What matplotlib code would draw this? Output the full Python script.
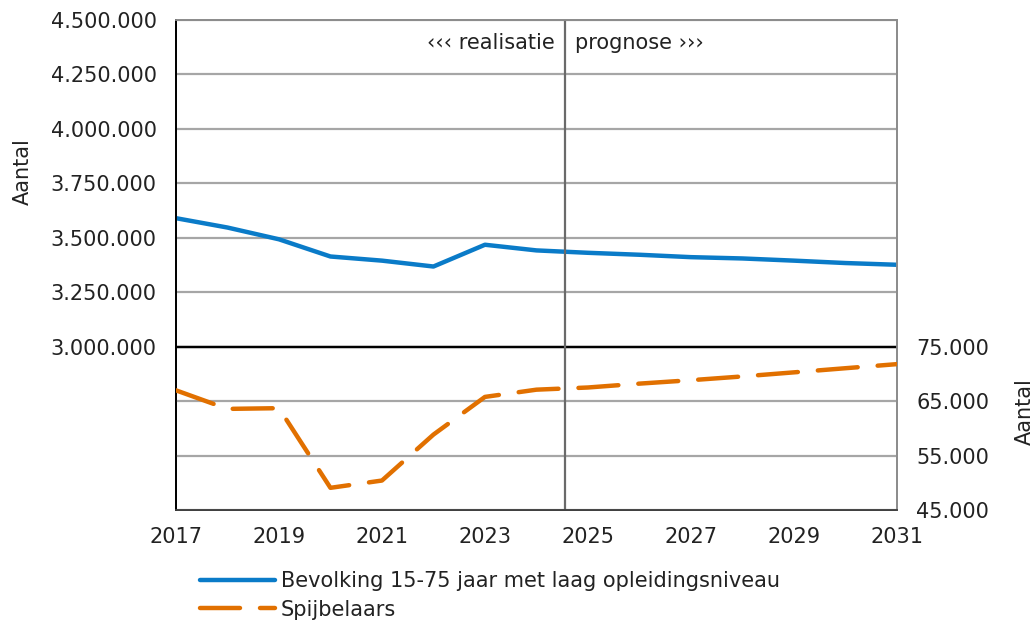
import matplotlib
matplotlib.use("Agg")
import matplotlib.pyplot as plt
from matplotlib.ticker import FuncFormatter

#-- data
years = list(range(2017, 2032))
bevolking = [3590000, 3547000, 3493000, 3414000, 3395000, 3368000, 3468000,
             3442000, 3431000, 3422000, 3411000, 3405000, 3395000, 3384000, 3376000]
spijbelaars = [66980, 63570, 63700, 49070, 50410, 58850, 65770,
               67100, 67500, 68210, 68840, 69530, 70280, 71040, 71790]
split_year = 2024.55
left_ticks = [3000000, 3250000, 3500000, 3750000, 4000000, 4250000, 4500000]
right_ticks = [45000, 55000, 65000, 75000]
x_ticks = list(range(2017, 2032, 2))

blue = '#0a7bc8'
orange = '#e17000'
grid = '#a6a6a6'
txt = '#222222'
fs = 15

plt.rcParams['font.family'] = ['DejaVu Sans']
plt.rcParams['font.size'] = fs
plt.rcParams['text.color'] = txt

def dots(v, pos):
    return f"{v:,.0f}".replace(',', '.')

fig = plt.figure(figsize=(10.35, 6.23), dpi=100)
ax = fig.add_axes([0.170, 0.1814, 0.6966, 0.7865])
ax2 = ax.twinx()

#-- left axis: population
ax.set_xlim(2017, 2031)
ax.set_ylim(2250000, 4500000)
ax.set_yticks(left_ticks)
ax.yaxis.set_major_formatter(FuncFormatter(dots))
ax.set_xticks(x_ticks)
ax.grid(axis='y', color=grid, lw=1.6)
ax.set_axisbelow(True)
ax.tick_params(axis='y', length=0, labelsize=fs, colors=txt, pad=14)
ax.tick_params(axis='x', length=0, labelsize=fs, colors=txt, pad=12)

#-- right axis: truants, same grid spacing
ax2.set_ylim(45000, 135000)
ax2.set_yticks(right_ticks)
ax2.yaxis.set_major_formatter(FuncFormatter(dots))
ax2.grid(axis='y', color=grid, lw=1.6)
ax2.set_axisbelow(True)
ax2.tick_params(length=0, labelsize=fs, colors=txt, pad=14)

for a in (ax, ax2):
    for s in a.spines.values():
        s.set_color('#8c8c8c')
        s.set_linewidth(1.3)
    a.spines['left'].set_color('black')
    a.spines['bottom'].set_color('#404040')

#-- separator lines (on top axes so the grid does not cover them)
ax2.axhline(75000, color='black', lw=1.7, zorder=2)
ax2.axvline(split_year, color='#6a6a6a', lw=1.6, zorder=2)

l1, = ax.plot(years, bevolking, color=blue, lw=3.2, zorder=3,
              solid_capstyle='round',
              label='Bevolking 15-75 jaar met laag opleidingsniveau')
l2, = ax2.plot(years, spijbelaars, color=orange, lw=3.2, zorder=3,
               dashes=(9, 4.5), dash_capstyle='round', label='Spijbelaars')

ax.text(split_year - 0.2, 4395000, '\u2039\u2039\u2039 realisatie', ha='right', va='center')
ax.text(split_year + 0.2, 4395000, 'prognose \u203a\u203a\u203a', ha='left', va='center')

fig.text(0.022, 0.725, 'Aantal', rotation=90, ha='center', va='center', fontsize=fs)
fig.text(0.99, 0.34, 'Aantal', rotation=90, ha='center', va='center', fontsize=fs)

fig.legend([l1, l2], [l1.get_label(), l2.get_label()], loc='upper left',
           bbox_to_anchor=(0.175, 0.113), frameon=False, handlelength=3.6,
           handletextpad=0.3, labelspacing=0.4, fontsize=fs)

fig.savefig('out.png', dpi=100)
